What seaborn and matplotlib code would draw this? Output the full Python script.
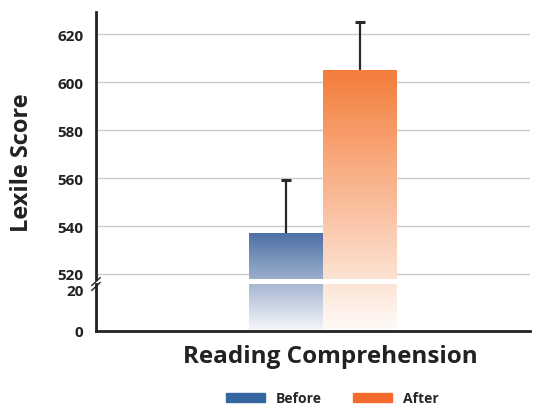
import numpy as np
import pandas as pd
import seaborn as sns
import matplotlib.pyplot as plt
from matplotlib.patches import Patch
from matplotlib.colors import to_rgb

# datos
grupos = ['Before', 'After']
categoria = 'Reading Comprehension'
puntajes = [537, 605]
errores = [22, 20]
ticks_arriba = [520, 540, 560, 580, 600, 620]
ticks_abajo = [0, 20]

colores_leyenda = {'Before': '#35669f', 'After': '#f46b2d'}
grad_arriba = {'Before': '#4d70a4', 'After': '#f47d3b'}
grad_abajo = {'Before': '#f6f7fb', 'After': '#fffbf8'}

sns.set_style('white')
plt.rcParams['font.family'] = ['Open Sans', 'DejaVu Sans']
plt.rcParams['font.weight'] = 'bold'

datos = pd.DataFrame({'cat': [categoria] * 2, 'grupo': grupos, 'score': puntajes})

fig = plt.figure(figsize=(5.36, 4.06), dpi=100)
ax_top = fig.add_axes([0.179, 0.3103, 0.81, 0.658])
ax_bot = fig.add_axes([0.179, 0.1823, 0.81, 0.1158])

for ax in (ax_top, ax_bot):
    sns.barplot(data=datos, x='cat', y='score', hue='grupo', hue_order=grupos,
                palette=colores_leyenda, errorbar=None, legend=False, ax=ax,
                width=0.8)

xlim = (-1.235, 1.126)
ax_top.set_ylim(517.9, 629.3)
ax_bot.set_ylim(0, 22.4)

for ax in (ax_top, ax_bot):
    ax.set_xlim(*xlim)
    ax.set_xticks([])
    ax.set_xlabel('')
    ax.set_ylabel('')
    ax.tick_params(axis='y', length=0, pad=9, labelsize=11, labelcolor='#222222')
    for s in ax.spines.values():
        s.set_visible(False)
    ax.spines['left'].set_visible(True)
    ax.spines['left'].set_color('#222222')
    ax.spines['left'].set_linewidth(2)

ax_top.set_yticks(ticks_arriba)
ax_bot.set_yticks(ticks_abajo)
ax_top.grid(axis='y', color='#cccccc', lw=1)
ax_top.set_axisbelow(True)
ax_bot.spines['bottom'].set_visible(True)
ax_bot.spines['bottom'].set_color('#222222')
ax_bot.spines['bottom'].set_linewidth(2)

for lab in ax_top.get_yticklabels() + ax_bot.get_yticklabels():
    lab.set_fontweight('bold')

# degradado continuo entre los dos ejes
fig.canvas.draw()
barras_top = ax_top.patches[:2]
barras_bot = ax_bot.patches[:2]
for i, g in enumerate(grupos):
    px_top = ax_top.transData.transform((0, puntajes[i]))[1]
    px_bot = ax_bot.transData.transform((0, 0))[1]
    c0 = np.array(to_rgb(grad_arriba[g]))
    c1 = np.array(to_rgb(grad_abajo[g]))
    for ax, p in ((ax_top, barras_top[i]), (ax_bot, barras_bot[i])):
        x0, x1 = p.get_x(), p.get_x() + p.get_width()
        y0 = ax.get_ylim()[0]
        y1 = min(p.get_height(), ax.get_ylim()[1])
        p0 = ax.transData.transform((0, y0))[1]
        p1 = ax.transData.transform((0, y1))[1]
        py = np.linspace(p1, p0, 300)
        t = np.clip((px_top - py) / (px_top - px_bot), 0, 1)
        img = (c0 + t[:, None] * (c1 - c0))[:, None, :]
        ax.imshow(img, extent=[x0, x1, y0, y1], aspect='auto', origin='upper',
                  zorder=2, interpolation='bilinear')
        p.set_visible(False)
    ax_top.set_xlim(*xlim)
    ax_bot.set_xlim(*xlim)
    ax_top.set_ylim(517.9, 629.3)
    ax_bot.set_ylim(0, 22.4)

# barras de error (solo hacia arriba, sin tope inferior)
for i, p in enumerate(barras_top):
    xc = p.get_x() + p.get_width() / 2
    _, caps, _ = ax_top.errorbar(xc, puntajes[i], yerr=[[0], [errores[i]]],
                                 fmt='none', ecolor='#2a2a2a', elinewidth=1.6,
                                 capsize=3.4, capthick=2.2, zorder=3)
    for c in caps:
        if np.isclose(c.get_ydata()[0], puntajes[i]):
            c.set_visible(False)

# marcas de corte del eje
for dy in (0, 0.012):
    fig.add_artist(plt.Line2D([0.171, 0.187], [0.282 + dy, 0.302 + dy],
                              transform=fig.transFigure, color='#222222', lw=1))

fig.text(330 / 536, 1 - 357 / 406, categoria, fontsize=17.5, fontweight='bold',
         color='#222222', ha='center', va='center')
fig.text(0.041, 0.6, 'Lexile Score', rotation=90, fontsize=17,
         fontweight='bold', color='#222222', ha='center', va='center')

handles = [Patch(color=colores_leyenda[g], label=g) for g in grupos]
fig.legend(handles=handles, loc='center', bbox_to_anchor=(0.62, 0.017),
           ncol=2, frameon=False, handlelength=2.8, handleheight=0.6,
           columnspacing=2.2, prop={'weight': 'bold', 'size': 10})

plt.savefig('out.png', dpi=100)
plt.close()
